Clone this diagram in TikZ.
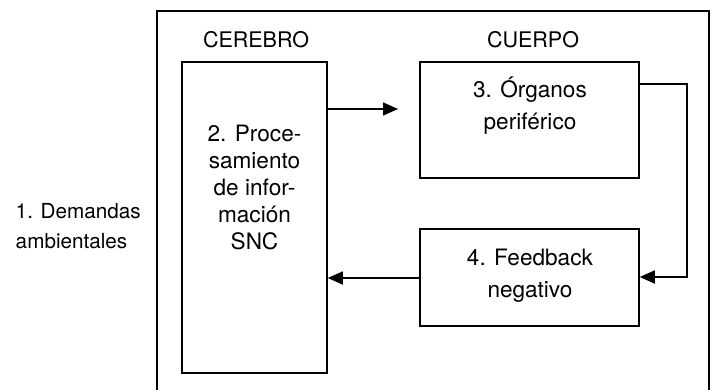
\documentclass[tikz,border=0pt]{standalone}
\usepackage{fontspec}
\setmainfont{TeX Gyre Heros}
\usetikzlibrary{arrows.meta,calc}

\tikzset{
  caja/.style={draw,line width=1.5pt,minimum width=#1,inner sep=0pt},
  texto/.style={align=center,inner sep=0pt},
  flecha/.style={line width=1.5pt,-{Triangle[length=15pt,width=13pt]}}
}

\begin{document}
\begin{tikzpicture}[x=1pt,y=-1pt,line width=1.5pt]
\clip (0,0) rectangle (715,390);
% marco exterior
\draw (157,11) rectangle (709,400);
\node[texto,anchor=base,font=\fontsize{21.5}{25}\selectfont] (cerebro) at (256,48) {CEREBRO};
\node[texto,anchor=base,font=\fontsize{21.5}{25}\selectfont] (cuerpo) at (533,48) {CUERPO};
\node[align=left,inner sep=0pt,anchor=west,font=\fontsize{20.7}{30}\selectfont] (demandas) at (15,226.5) {1. Demandas\\ambientales};
% cajas
\node[caja=145pt,minimum height=311pt] (proc) at (254.5,217.5) {};
\node[caja=219pt,minimum height=116pt] (organos) at (529.5,120) {};
\node[caja=219pt,minimum height=97pt] (feedback) at (529.5,277.5) {};
\node[texto,font=\fontsize{22.6}{27}\selectfont] (proctxt) at (254.5,187) {2. Proce-\\samiento\\de infor-\\mación\\SNC};
\node[texto,font=\fontsize{22.6}{32}\selectfont] (organostxt) at (530,106) {3. Órganos\\periférico};
\node[texto,font=\fontsize{22.6}{32}\selectfont] (feedbacktxt) at (530,276) {4. Feedback\\negativo};
% flechas
\coordinate (fin) at (398,109);
\draw[flecha] (proc.east |- fin) -- (fin);
\draw[flecha] (organos.east |- 0,84) -- (687,84) -- (687,277) -- (feedback.east |- 0,277);
\draw[flecha] (feedback.west |- 0,278) -- (proc.east |- 0,278);
\end{tikzpicture}
\end{document}
